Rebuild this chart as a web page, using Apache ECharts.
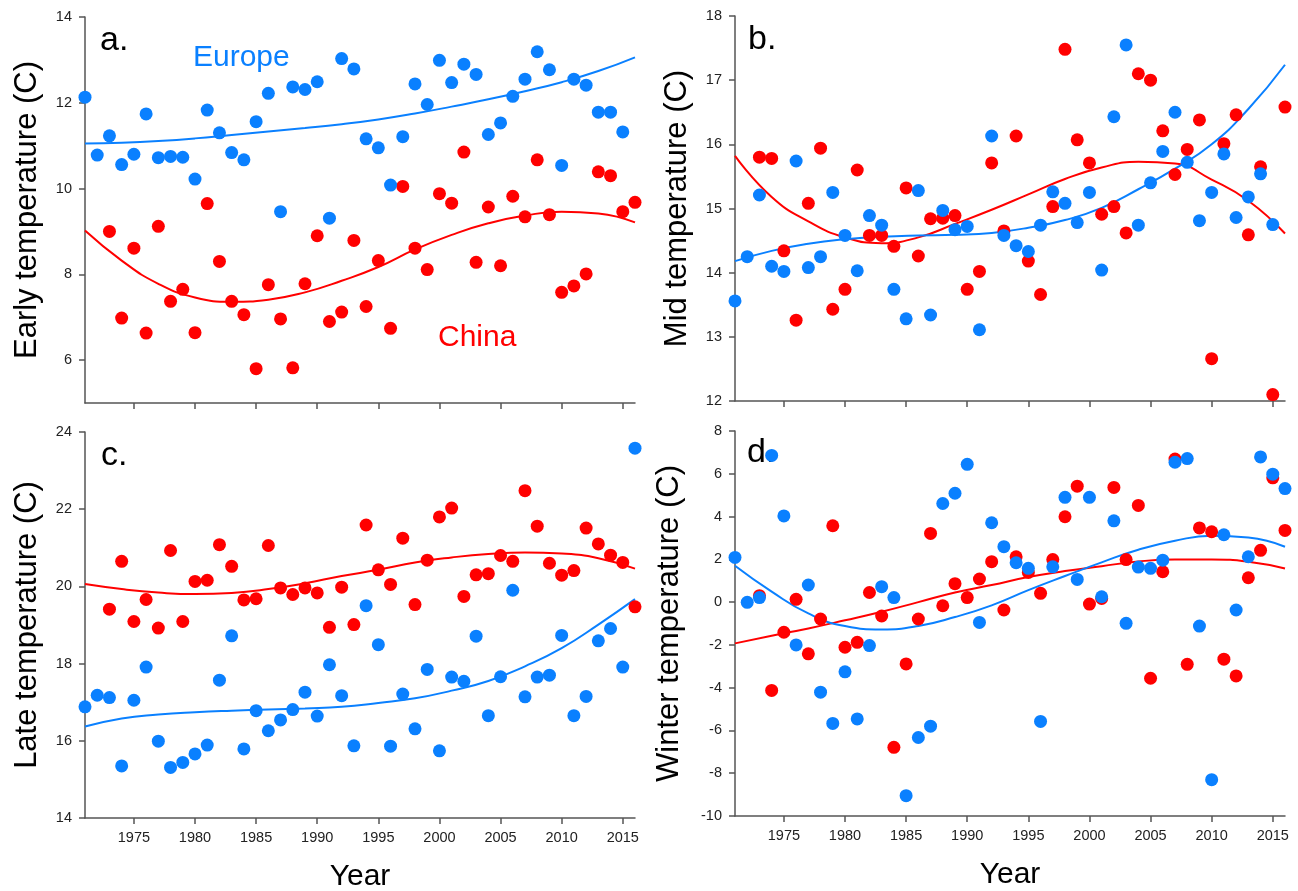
<!DOCTYPE html>
<html>
<head>
<meta charset="utf-8">
<script src="https://cdn.jsdelivr.net/npm/echarts@6/dist/echarts.min.js"></script>
<style>
  html, body { margin: 0; padding: 0; background: #fff; }
  #chart { width: 1298px; height: 891px; }
</style>
</head>
<body>
<div id="chart"></div>
<script>
// ---------- DATA ----------
const years = [1971,1972,1973,1974,1975,1976,1977,1978,1979,1980,1981,1982,1983,1984,1985,1986,1987,1988,1989,1990,
               1991,1992,1993,1994,1995,1996,1997,1998,1999,2000,2001,2002,2003,2004,2005,2006,2007,2008,2009,2010,
               2011,2012,2013,2014,2015,2016];

// a. Early temperature
const europeEarly = [12.13,10.78,11.23,10.56,10.80,11.74,10.72,10.75,10.73,10.22,11.83,11.30,10.84,10.67,11.56,12.22,9.46,12.37,12.31,12.49,
                     9.31,13.03,12.79,11.16,10.95,10.08,11.21,12.44,11.96,12.99,12.47,12.90,12.66,11.26,11.53,12.15,12.55,13.19,12.77,10.54,
                     12.55,12.41,11.78,11.78,11.32,null];
const chinaEarly  = [null,null,9.00,6.98,8.61,6.63,9.12,7.37,7.65,6.64,9.65,8.30,7.37,7.06,5.80,7.76,6.96,5.82,7.78,8.90,
                     6.90,7.12,8.79,7.25,8.32,6.74,10.05,8.61,8.11,9.88,9.66,10.85,8.28,9.57,8.20,9.82,9.34,10.67,9.39,7.58,
                     7.73,8.01,10.39,10.30,9.46,9.68];

// b. Mid temperature
const europeMid = [13.56,14.25,15.21,14.10,14.02,15.74,14.08,14.25,15.25,14.58,14.03,14.89,14.74,13.74,13.28,15.28,13.34,14.97,14.67,14.72,
                   13.11,16.13,14.58,14.42,14.33,14.74,15.26,15.08,14.78,15.25,14.04,16.43,17.55,14.74,15.40,15.89,16.50,15.72,14.81,15.25,
                   15.85,14.86,15.18,15.54,14.75,null];
const chinaMid  = [null,null,15.80,15.78,14.34,13.26,15.08,15.94,13.43,13.74,15.60,14.58,14.58,14.41,15.32,14.26,14.84,14.85,14.89,13.74,
                   14.02,15.71,14.65,16.13,14.18,13.66,15.03,17.48,16.07,15.71,14.91,15.03,14.62,17.10,17.00,16.21,15.53,15.92,16.38,12.66,
                   16.01,16.46,14.59,15.65,12.10,16.58];

// c. Late temperature
const europeLate = [16.88,17.18,17.12,15.35,17.05,17.91,15.99,15.31,15.44,15.66,15.89,17.57,18.72,15.79,16.78,16.26,16.54,16.81,17.26,16.64,
                    17.97,17.17,15.87,19.50,18.49,15.86,17.21,16.31,17.85,15.74,17.65,17.54,18.71,16.65,17.66,19.90,17.14,17.65,17.70,18.73,
                    16.65,17.15,18.59,18.91,17.91,23.58];
const chinaLate  = [null,null,19.41,20.65,19.09,19.66,18.92,20.93,19.09,20.13,20.16,21.08,20.52,19.65,19.68,21.06,19.96,19.79,19.96,19.83,
                    18.94,19.98,19.01,21.59,20.43,20.05,21.25,19.53,20.68,21.80,22.03,19.74,20.30,20.33,20.80,20.65,22.48,21.56,20.60,20.29,
                    20.41,21.51,21.10,20.81,20.62,19.47];

// d. Winter temperature
const europeWinter = [2.09,-0.01,0.21,6.86,4.03,-2.00,0.80,-4.21,-5.67,-3.26,-5.46,-2.03,0.72,0.21,-9.05,-6.33,-5.80,4.61,5.09,6.44,
                      -0.95,3.71,2.59,1.84,1.58,-5.58,1.65,4.90,1.06,4.90,0.25,3.80,-0.99,1.64,1.58,1.96,6.54,6.71,-1.12,-8.30,
                      3.15,-0.37,2.12,6.79,5.98,5.31];
const chinaWinter  = [null,null,0.30,-4.13,-1.41,0.13,-2.42,-0.79,3.57,-2.11,-1.88,0.45,-0.65,-6.79,-2.89,-0.79,3.21,-0.17,0.86,0.21,
                      1.08,1.89,-0.37,2.12,1.39,0.41,1.99,3.99,5.42,-0.09,0.17,5.36,1.99,4.52,-3.56,1.42,6.69,-2.91,3.47,3.29,
                      -2.67,-3.45,1.14,2.42,5.81,3.35];

// Fitted trend curves at these years
const fitYears = [1971,1974,1977,1980,1983,1986,1989,1992,1995,1998,2001,2004,2007,2010,2013,2016];
const europeEarlyFit  = [11.05,11.07,11.11,11.17,11.25,11.33,11.41,11.50,11.61,11.75,11.91,12.08,12.27,12.48,12.74,13.06];
const chinaEarlyFit   = [9.02,8.32,7.78,7.46,7.36,7.41,7.58,7.85,8.17,8.58,8.92,9.19,9.37,9.46,9.42,9.21];
const europeMidFit    = [14.18,14.34,14.45,14.52,14.56,14.58,14.59,14.62,14.70,14.82,15.01,15.30,15.62,16.00,16.55,17.24];
const chinaMidFit     = [15.82,15.18,14.80,14.55,14.46,14.55,14.76,14.98,15.22,15.46,15.64,15.73,15.70,15.45,15.12,14.61];
const europeLateFit   = [16.37,16.58,16.68,16.74,16.78,16.81,16.84,16.88,16.98,17.10,17.30,17.55,17.93,18.40,19.01,19.67];
const chinaLateFit    = [20.06,19.93,19.84,19.80,19.83,19.93,20.08,20.27,20.43,20.62,20.75,20.84,20.88,20.85,20.73,20.46];
const europeWinterFit = [1.70,0.49,-0.53,-1.12,-1.28,-1.12,-0.70,-0.15,0.56,1.22,1.86,2.45,2.87,3.10,3.02,2.59];
const chinaWinterFit  = [-1.93,-1.57,-1.23,-0.85,-0.45,0.00,0.45,0.80,1.17,1.45,1.68,1.90,1.99,1.99,1.89,1.57];

// Axis ticks
const xTicks = [1975,1980,1985,1990,1995,2000,2005,2010,2015];
const yTicksEarly  = [6,8,10,12,14];
const yTicksMid    = [12,13,14,15,16,17,18];
const yTicksLate   = [14,16,18,20,22,24];
const yTicksWinter = [-10,-8,-6,-4,-2,0,2,4,6,8];

const panelLabels = ['a.','b.','c.','d.'];
const yNames = ['Early temperature (C)','Mid temperature (C)','Late temperature (C)','Winter temperature (C)'];
const xName = 'Year';
const regionNames = ['Europe','China'];

// ---------- BUILD ----------
const BLUE = '#0a80ff';
const RED = '#ff0000';
const AXIS = '#555555';
const FONT = '"Liberation Sans", Arial, Helvetica, sans-serif';

function pairs(xs, ys) {
  const out = [];
  for (let i = 0; i < xs.length; i++) if (ys[i] !== null) out.push([xs[i], ys[i]]);
  return out;
}

const grids = [
  {left: 85, top: 17, width: 550, height: 386},
  {left: 735, top: 16, width: 550, height: 385},
  {left: 85, top: 432, width: 550, height: 386},
  {left: 735, top: 431, width: 550, height: 385}
];
const yRanges = [[5,14],[12,18],[14,24],[-10,8]];
const yTicks = [yTicksEarly, yTicksMid, yTicksLate, yTicksWinter];
const nameGaps = [42, 42, 42, 50];
const panels = [
  [europeEarly, chinaEarly, europeEarlyFit, chinaEarlyFit],
  [europeMid, chinaMid, europeMidFit, chinaMidFit],
  [europeLate, chinaLate, europeLateFit, chinaLateFit],
  [europeWinter, chinaWinter, europeWinterFit, chinaWinterFit]
];

const xAxes = [], yAxes = [], series = [];
for (let i = 0; i < 4; i++) {
  const bottom = i >= 2;
  xAxes.push({
    type: 'value', gridIndex: i, min: 1971, max: 2016,
    name: bottom ? xName : '', nameLocation: 'middle', nameGap: 44,
    nameTextStyle: {fontSize: 30, fontFamily: FONT, color: '#000'},
    axisLine: {show: true, onZero: false, lineStyle: {color: AXIS, width: 1.5}},
    axisTick: {show: true, length: 6, customValues: xTicks, lineStyle: {color: AXIS, width: 1.5}},
    axisLabel: {show: bottom, customValues: xTicks, margin: 12, fontSize: 14.5, fontFamily: FONT, color: '#222',
                formatter: v => String(v)},
    splitLine: {show: false}
  });
  yAxes.push({
    type: 'value', gridIndex: i, min: yRanges[i][0], max: yRanges[i][1],
    name: yNames[i], nameLocation: 'middle', nameGap: nameGaps[i],
    nameTextStyle: {fontSize: 31, fontFamily: FONT, color: '#000'},
    axisLine: {show: true, onZero: false, lineStyle: {color: AXIS, width: 1.5}},
    axisTick: {show: true, length: 6, customValues: yTicks[i], lineStyle: {color: AXIS, width: 1.5}},
    axisLabel: {show: true, customValues: yTicks[i], margin: 13, fontSize: 14.5, fontFamily: FONT, color: '#222',
                formatter: v => String(v)},
    splitLine: {show: false}
  });
  const [eu, cn, euFit, cnFit] = panels[i];
  series.push({
    type: 'line', xAxisIndex: i, yAxisIndex: i, data: pairs(fitYears, cnFit),
    smooth: 0.5, showSymbol: false, symbol: 'none', lineStyle: {color: RED, width: 2}, z: 2, silent: true
  });
  series.push({
    type: 'line', xAxisIndex: i, yAxisIndex: i, data: pairs(fitYears, euFit),
    smooth: 0.5, showSymbol: false, symbol: 'none', lineStyle: {color: BLUE, width: 2}, z: 2, silent: true
  });
  series.push({
    type: 'scatter', name: regionNames[1], xAxisIndex: i, yAxisIndex: i, data: pairs(years, cn),
    symbolSize: 13, itemStyle: {color: RED, opacity: 1}, z: 3, clip: false
  });
  series.push({
    type: 'scatter', name: regionNames[0], xAxisIndex: i, yAxisIndex: i, data: pairs(years, eu),
    symbolSize: 13, itemStyle: {color: BLUE, opacity: 1}, z: 4, clip: false
  });
}

const letterPos = [[100, 41], [748, 40], [101, 456], [747, 453]];
const graphics = panelLabels.map((t, i) => ({
  type: 'text', x: letterPos[i][0], y: letterPos[i][1], z: 1,
  style: {text: t, fontSize: 34, fontFamily: FONT, fill: '#000', verticalAlign: 'middle', align: 'left'}
}));
graphics.push({
  type: 'text', x: 193, y: 57.5, z: 1,
  style: {text: regionNames[0], fontSize: 30, fontFamily: FONT, fill: BLUE, verticalAlign: 'middle', align: 'left'}
});
graphics.push({
  type: 'text', x: 438, y: 337.5, z: 1,
  style: {text: regionNames[1], fontSize: 30, fontFamily: FONT, fill: RED, verticalAlign: 'middle', align: 'left'}
});

const chart = echarts.init(document.getElementById('chart'), null, {renderer: 'canvas'});
chart.setOption({
  backgroundColor: '#ffffff',
  animation: false,
  grid: grids.map(g => Object.assign({outerBoundsMode: 'none', containLabel: false}, g)),
  xAxis: xAxes,
  yAxis: yAxes,
  series: series,
  graphic: graphics
});
</script>
</body>
</html>
